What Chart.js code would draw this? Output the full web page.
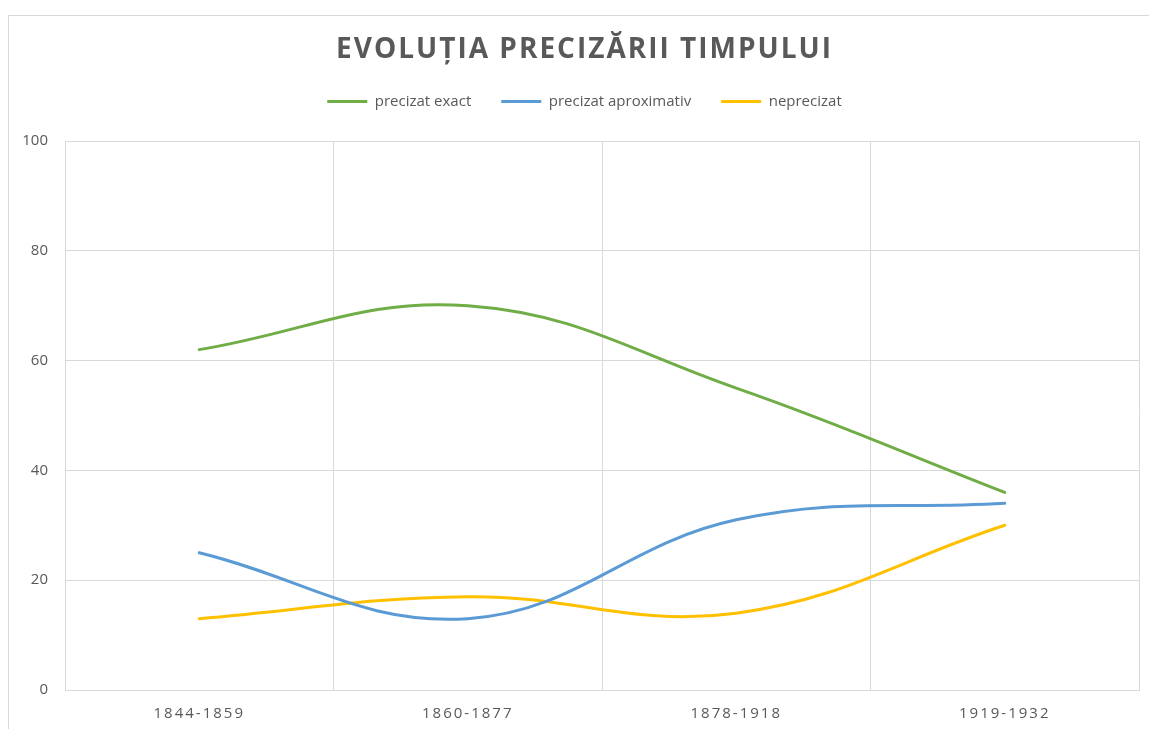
<!DOCTYPE html>
<html>
<head>
<meta charset="utf-8">
<title>Evoluția precizării timpului</title>
<script src="https://cdn.jsdelivr.net/npm/chart.js@4/dist/chart.umd.min.js"></script>
<style>
    html, body { margin: 0; padding: 0; background: #fff; overflow: hidden; }
    #frame { position: absolute; left: 8px; top: 15px; width: 1200px; height: 800px; border: 1px solid #d9d9d9; }
    #wrap { position: absolute; left: 0; top: 0; width: 1149px; height: 729px; }
</style>
</head>
<body>
<div id="frame"></div>
<div id="wrap"><canvas id="myCanvas"></canvas></div>
<script>
var categories = ['1844-1859', '1860-1877', '1878-1918', '1919-1932'];
var seriesNames = ['precizat exact', 'precizat aproximativ', 'neprecizat'];
var exact = [62, 70, 55, 36];
var approx = [25, 13, 31, 34];
var unspecified = [13, 17, 14, 30];
var yTicks = [0, 20, 40, 60, 80, 100];

var textColor = '#595959';
var gridColor = '#d9d9d9';

// canvas has no letter-spacing option, so wrap the title and x label draw calls
function Spaced(obj, method) {
    if (!obj || obj['_spaced_' + method]) return;
    var orig = obj[method];
    obj[method] = function (area) {
        var ctx = this.ctx;
        ctx.save();
        ctx.letterSpacing = '2px';
        orig.call(this, area);
        ctx.restore();
    };
    obj['_spaced_' + method] = true;
}

var spacedText = {
    id: 'spacedText',
    beforeDraw: function (chart) {
        Spaced(chart.titleBlock, 'draw');
        Spaced(chart.scales.x, 'drawLabels');
        // let "100" reach past the left edge of the y scale box
        chart.scales.y._computeLabelArea = function () {};
    }
};

// extra room between legend and plot
var legendGap = {
    id: 'legendGap',
    beforeLayout: function (chart) {
        var legend = chart.legend;
        if (!legend || legend._gap) return;
        var fit = legend.fit;
        legend.fit = function () {
            fit.call(this);
            this.height += 22;
        };
        legend._gap = true;
    }
};

function MakeDataset(label, values, color) {
    return {
        label: label,
        data: values,
        borderColor: color,
        backgroundColor: color,
        borderWidth: 3,
        borderCapStyle: 'round',
        pointRadius: 0,
        pointHoverRadius: 0,
        tension: 0.4,
        fill: false
    };
}

var ctx = document.getElementById('myCanvas').getContext('2d');
var myChart = new Chart(ctx, {
    type: 'line',
    data: {
        labels: categories,
        datasets: [
            MakeDataset(seriesNames[0], exact, '#70ad47'),
            MakeDataset(seriesNames[1], approx, '#5b9bd5'),
            MakeDataset(seriesNames[2], unspecified, '#ffc000')
        ]
    },
    options: {
        responsive: true,
        maintainAspectRatio: false,
        animation: false,
        layout: { padding: { left: 30, right: 10, top: 0, bottom: 0 } },
        plugins: {
            title: {
                display: true,
                text: 'EVOLUȚIA PRECIZĂRII TIMPULUI',
                color: textColor,
                font: { family: 'Open Sans', size: 28, weight: 'bold', lineHeight: 1 },
                padding: { top: 36, bottom: 0 }
            },
            legend: {
                position: 'top',
                labels: {
                    color: textColor,
                    font: { family: 'Open Sans', size: 15 },
                    usePointStyle: true,
                    pointStyle: 'line',
                    pointStyleWidth: 40,
                    padding: 30
                }
            },
            tooltip: { enabled: false }
        },
        scales: {
            x: {
                offset: true,
                grid: { color: gridColor, offset: true, drawTicks: false },
                border: { color: gridColor },
                ticks: { color: textColor, font: { family: 'Open Sans', size: 15 }, padding: 15 },
                afterFit: function (scale) { scale.height = 39; }
            },
            y: {
                min: 0,
                max: 100,
                afterBuildTicks: function (scale) {
                    scale.ticks = yTicks.map(function (v) { return { value: v }; });
                },
                grid: { color: gridColor, drawTicks: false },
                border: { color: gridColor },
                ticks: { color: textColor, font: { family: 'Open Sans', size: 15 }, padding: 17 },
                afterFit: function (scale) { scale.width = 35; }
            }
        }
    },
    plugins: [spacedText, legendGap]
});
</script>
</body>
</html>
